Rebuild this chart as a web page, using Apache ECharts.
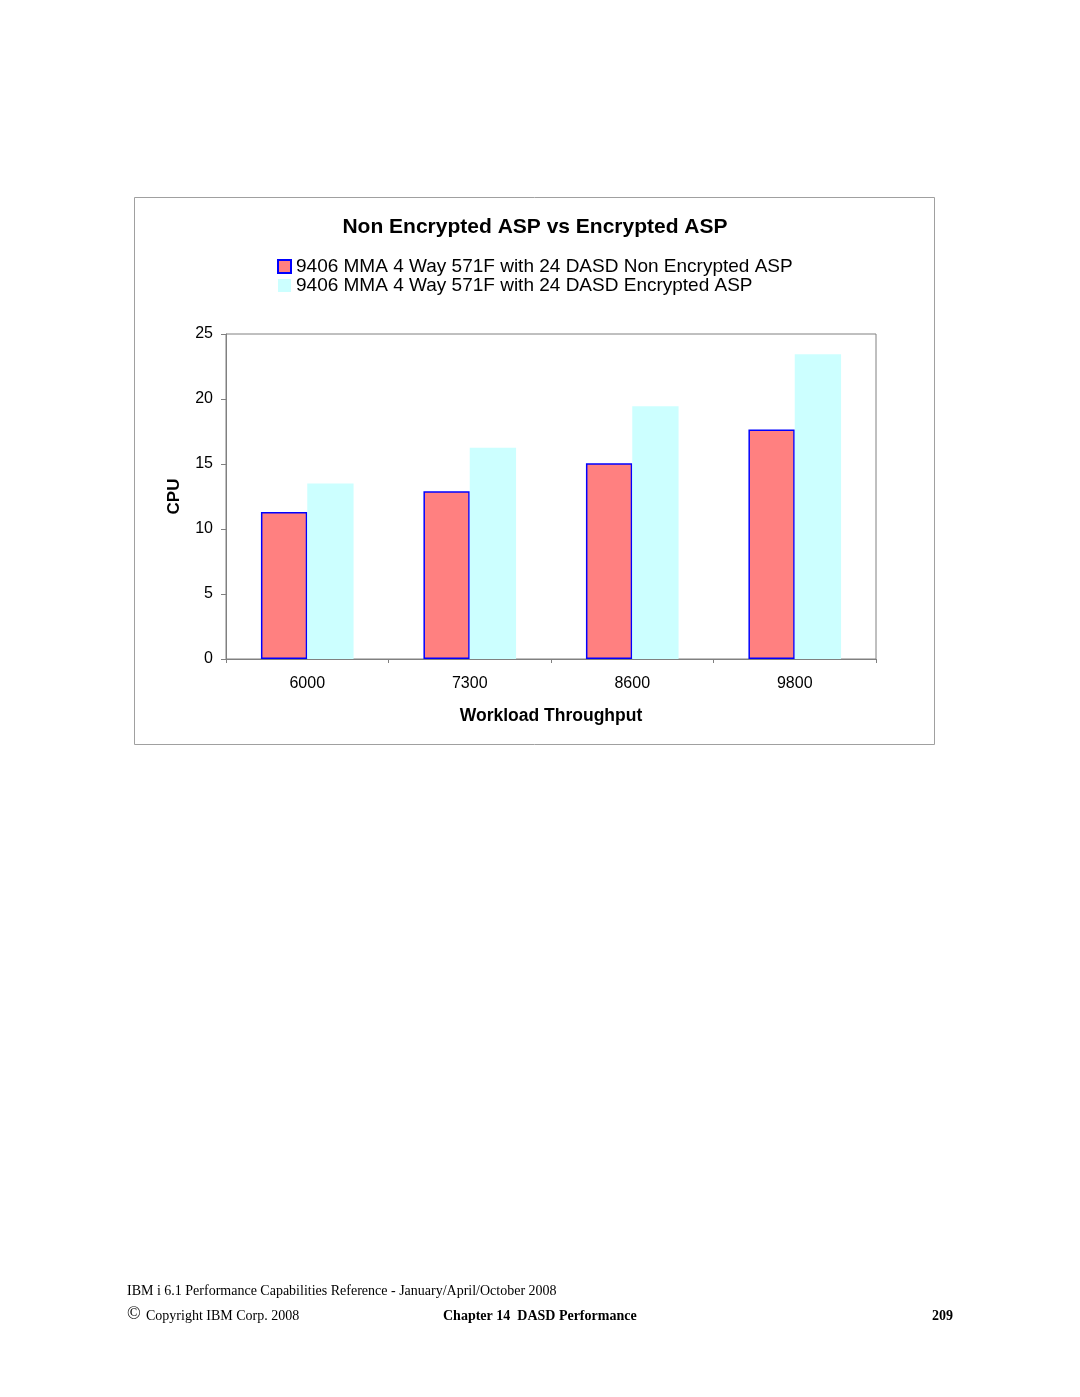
<!DOCTYPE html>
<html><head><meta charset="utf-8">
<script src="https://cdn.jsdelivr.net/npm/echarts@6/dist/echarts.min.js"></script>
<style>html,body{margin:0;padding:0;background:#fff}#c{width:1080px;height:1397px}</style>
</head><body><div id="c"></div>
<script>
const categories = ['6000', '7300', '8600', '9800'];
const nonEncrypted = [11.3, 12.9, 15.05, 17.65];
const encrypted = [13.5, 16.25, 19.45, 23.45];
const yTicks = [0, 5, 10, 15, 20, 25];
const seriesNames = ['9406 MMA 4 Way 571F with 24 DASD Non Encrypted ASP', '9406 MMA 4 Way 571F with 24 DASD Encrypted ASP'];

const chart = echarts.init(document.getElementById('c'), null, {renderer: 'canvas'});
const sans = 'Liberation Sans, Arial, sans-serif';
const serif = 'Liberation Serif, Times New Roman, serif';
chart.setOption({
  animation: false,
  backgroundColor: '#fff',
  legend: {
    orient: 'vertical', left: 277, top: 257, padding: 0,
    itemWidth: 13, itemHeight: 13, itemGap: 0,
    textStyle: {fontFamily: sans, fontSize: 19, lineHeight: 19, color: '#000', padding: [0,0,0,0]},
    data: [
      {name: seriesNames[0], icon: 'rect'},
      {name: seriesNames[1], icon: 'rect'}
    ]
  },
  grid: {left: 226, top: 334, width: 650, height: 325, show: true, borderColor: '#808080', borderWidth: 1, containLabel: false},
  xAxis: {
    type: 'category', data: categories,
    name: 'Workload Throughput', nameLocation: 'middle', nameGap: 48,
    nameTextStyle: {fontFamily: sans, fontSize: 17.5, fontWeight: 'bold', color: '#000'},
    axisLine: {lineStyle: {color: '#808080'}},
    axisTick: {show: true, length: 4, lineStyle: {color: '#808080'}},
    axisLabel: {fontFamily: sans, fontSize: 16, color: '#000', margin: 17}
  },
  yAxis: {
    type: 'value', min: 0, max: 25, interval: 5,
    name: 'CPU', nameLocation: 'middle', nameGap: 43, nameRotate: 90,
    nameTextStyle: {fontFamily: sans, fontSize: 17, fontWeight: 'bold', color: '#000'},
    axisLine: {show: true, lineStyle: {color: '#808080'}},
    axisTick: {show: true, length: 5, lineStyle: {color: '#808080'}},
    splitLine: {show: false},
    axisLabel: {fontFamily: sans, fontSize: 16, color: '#000', margin: 13,
      formatter: v => yTicks.includes(v) ? String(v) : ''}
  },
  series: [
    {name: seriesNames[0], type: 'bar', data: nonEncrypted, barGap: '0%', barCategoryGap: '43%',
     itemStyle: {color: '#FF8080', borderColor: '#0000FF', borderWidth: 1.5}},
    {name: seriesNames[1], type: 'bar', data: encrypted,
     itemStyle: {color: '#CCFFFF', borderColor: '#CCFFFF', borderWidth: 0}}
  ],
  graphic: [
    {type: 'rect', shape: {x: 134.5, y: 197.5, width: 800, height: 547}, style: {fill: 'none', stroke: '#A0A0A0', lineWidth: 1}, z: -1},
    {type: 'text', x: 535, y: 227, style: {text: 'Non Encrypted ASP vs Encrypted ASP', font: 'bold 21px ' + sans, fill: '#000', textAlign: 'center', textVerticalAlign: 'middle'}},
    {type: 'text', x: 127, y: 1291, style: {text: 'IBM i 6.1 Performance Capabilities Reference - January/April/October 2008', font: '14px ' + serif, fill: '#000', textVerticalAlign: 'middle'}},
    {type: 'text', x: 127, y: 1314, style: {text: '©', font: '18px ' + serif, fill: '#000', textVerticalAlign: 'middle'}},
    {type: 'text', x: 146, y: 1316, style: {text: 'Copyright IBM Corp. 2008', font: '14px ' + serif, fill: '#000', textVerticalAlign: 'middle'}},
    {type: 'text', x: 443, y: 1316, style: {text: 'Chapter 14  DASD Performance', font: 'bold 14px ' + serif, fill: '#000', textVerticalAlign: 'middle'}},
    {type: 'text', x: 932, y: 1316, style: {text: '209', font: 'bold 14px ' + serif, fill: '#000', textVerticalAlign: 'middle'}}
  ]
});
</script></body></html>
